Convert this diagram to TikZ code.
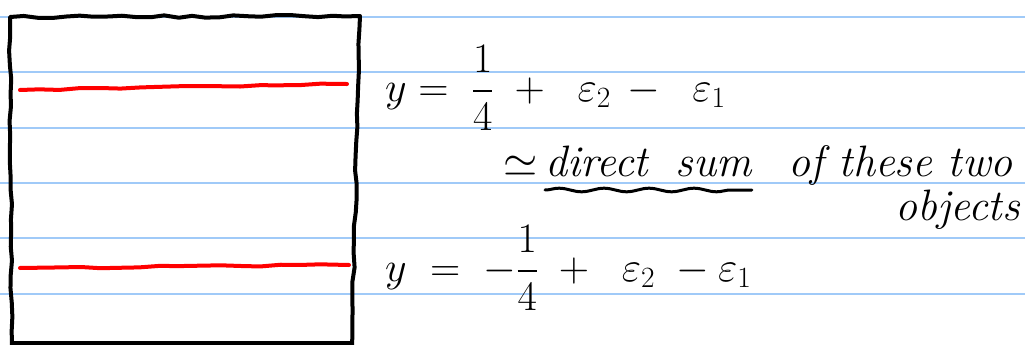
\RequirePackage{fix-cm}
\documentclass[tikz,border=0pt]{standalone}
\usepackage{amsmath,amssymb}
\usetikzlibrary{decorations.pathmorphing}
\definecolor{ruled}{RGB}{160,202,248}
\definecolor{ink}{RGB}{0,0,0}
\definecolor{redink}{RGB}{255,0,0}
\begin{document}
\begin{tikzpicture}[x=1pt,y=-1pt,
  ruleline/.style={ruled,line width=2pt},
  boxline/.style={ink,line width=4pt,line cap=round,line join=round,
    decorate,decoration={random steps,segment length=14pt,amplitude=1.2pt}},
  redline/.style={redink,line width=4pt,line cap=round,line join=round,
    decorate,decoration={random steps,segment length=20pt,amplitude=1pt}},
  eqtext/.style={inner sep=0pt,font=\fontsize{42}{48}\selectfont},
  handtext/.style={inner sep=0pt,font=\fontsize{44}{50}\selectfont\itshape}]
\pgfmathsetseed{7}
\useasboundingbox (0,0) rectangle (1025,345);
\fill[white] (0,0) rectangle (1025,345);
% ruled paper lines
\foreach \yy in {17,72,128,183,238,294}
  \draw[ruleline] (0,\yy) -- (1025,\yy);
% box
\coordinate (tl) at (10,17);
\coordinate (tr) at (360,16);
\coordinate (br) at (352,345);
\coordinate (bl) at (12,345);
\draw[boxline] (bl) -- (tl) -- (tr) -- (br);
\draw[ink,line width=4pt] (12,343) -- (352,343);
% red lines
\coordinate (r1a) at (20,90);
\coordinate (r1b) at (347,84);
\coordinate (r2a) at (20,268);
\coordinate (r2b) at (349,265);
\draw[redline] (r1a) -- (r1b);
\draw[redline] (r2a) -- (r2b);
% texts
\node[eqtext,anchor=west] (eqa) at (385,88) {$y=\;\dfrac{1}{4}\;+\;\;\varepsilon_2\,-\;\;\varepsilon_1$};
\node[handtext,anchor=base west] (sim) at (503,176) {$\simeq$};
\node[handtext,anchor=base west] (ds) at (545,176) {direct\; sum};
\node[handtext,anchor=base west] (rest) at (788,176) {of these two};
\node[handtext,anchor=base east] (obj) at (1020,220) {objects};
\node[eqtext,anchor=west] (eqb) at (385,268) {$y\;=\;-\dfrac{1}{4}\;+\;\;\varepsilon_2\;-\varepsilon_1$};
% wavy underline
\coordinate (ua) at ([yshift=-14pt]ds.base west);
\coordinate (ub) at ([yshift=-14pt]ds.base east);
\draw[ink,line width=3pt,line cap=round,decorate,decoration={snake,segment length=45pt,amplitude=1.8pt}] (ua) -- (ub);
\end{tikzpicture}
\end{document}
